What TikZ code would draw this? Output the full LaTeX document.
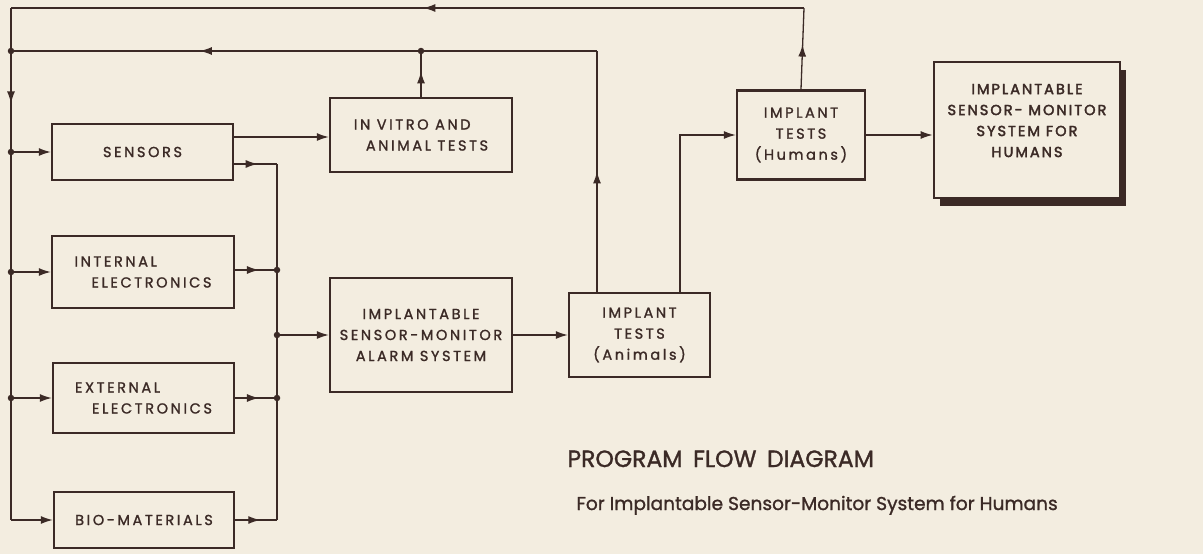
\documentclass[tikz,border=0pt]{standalone}
\usepackage{fontspec}
\setmainfont{Poppins}[FakeBold=1.2]
\newfontfamily\boxfont{Poppins}[LetterSpace=18,FakeBold=1.4]
\newfontfamily\boxbold{Poppins}[LetterSpace=14,FakeBold=2.6]
\usetikzlibrary{arrows.meta,decorations.markings,shadows}

\definecolor{ink}{HTML}{3B2A26}
\definecolor{paper}{HTML}{F3EDE0}

\tikzset{
  block/.style={draw=ink, line width=2.4pt, text=ink, align=center, inner sep=0pt,
    font=\boxfont\fontsize{14.5}{21}\selectfont},
  flow/.style={draw=ink, line width=1.3pt},
  jdot/.style={circle, fill=ink, inner sep=0pt, minimum size=6.5pt},
  midarrow/.style={postaction={decorate}, decoration={markings,
    mark=at position #1 with {\arrow{Latex[length=12pt,width=8pt]}}}},
  midarrow/.default=0.5,
}

\begin{document}
\begin{tikzpicture}[x=1pt, y=-1pt, >={Latex[length=12pt,width=8pt]}]
  % background and page size
  \fill[paper] (0,0) rectangle (1203,554);

  % 1. input blocks (left column)
  \node[block, minimum width=181pt, minimum height=56pt] (sens) at (142.5,152) {SENSORS};
  \node[block, minimum width=182pt, minimum height=72pt, align=left] (intel) at (143,272) {INTERNAL\\\hspace*{17pt}ELECTRONICS};
  \node[block, minimum width=181pt, minimum height=70pt, align=left] (extel) at (143.5,398) {EXTERNAL\\\hspace*{17pt}ELECTRONICS};
  \node[block, minimum width=180pt, minimum height=56pt] (bio) at (144,520) {BIO-MATERIALS};

  % 2. test and system blocks
  \node[block, minimum width=182pt, minimum height=74pt, align=left] (vitro) at (421,135) {IN VITRO AND\\\hspace*{12pt}ANIMAL TESTS};
  \node[block, minimum width=182pt, minimum height=114pt] (alarm) at (421,335) {IMPLANTABLE\\SENSOR-MONITOR\\ALARM SYSTEM};
  \node[block, minimum width=141pt, minimum height=84pt] (animals) at (639.5,335) {IMPLANT\\TESTS\\(Animals)};
  \node[block, minimum width=128pt, minimum height=89pt] (humans) at (801,135) {IMPLANT\\TESTS\\(Humans)};
  \node[block, line width=2.8pt, minimum width=186pt, minimum height=136pt,
    drop shadow={shadow xshift=6pt, shadow yshift=-8pt, opacity=1, fill=ink},
    fill=paper, font=\boxbold\fontsize{14.5}{21}\selectfont] (final) at (1027,130)
    {IMPLANTABLE\\SENSOR- MONITOR\\SYSTEM FOR\\HUMANS\\[-2pt]};

  % 3. junction points
  \coordinate (tr) at (804,8);
  \coordinate (tl) at (11,8);
  \coordinate (bl) at (11,520);
  \coordinate (ar) at (597,51);
  \coordinate (hx) at (680,135);
  \node[jdot] (j1) at (11,51) {};
  \node[jdot] (j2) at (11,152) {};
  \node[jdot] (j3) at (11,272) {};
  \node[jdot] (j4) at (11,398) {};
  \node[jdot] (jv) at (421,51) {};
  \coordinate (bs) at (277,164);
  \coordinate (bb) at (277,520);
  \node[jdot] (b2) at (277,270) {};
  \node[jdot] (b3) at (277,335) {};
  \node[jdot] (b4) at (277,398) {};

  % 4. feedback loops
  \draw[flow, midarrow=0.55] (humans.north) -- (tr);
  \draw[flow, midarrow=0.48] (tr) -- (tl);
  \draw[flow] (tl) -- (j1);
  \draw[flow, midarrow=0.52] (j1) -- (j2);
  \draw[flow] (j2) -- (j3) -- (j4) -- (bl);
  \draw[flow, midarrow=0.5] (animals.north -| ar) -- (ar);
  \draw[flow] (ar) -- (jv);
  \draw[flow, midarrow=0.54] (jv) -- (j1);
  \draw[flow, midarrow=0.6] (vitro.north) -- (jv);

  % 5. inputs into the blocks
  \draw[flow, ->] (j2) -- (sens.west);
  \draw[flow, ->] (j3) -- (intel.west);
  \draw[flow, ->] (j4) -- (extel.west);
  \draw[flow, ->] (bl) -- (bio.west);

  % 6. outputs to the bus
  \draw[flow, ->] ([yshift=15pt]sens.east) -- ([yshift=15pt]sens.east -| vitro.west);
  \draw[flow, midarrow=0.55] ([yshift=-12pt]sens.east) -- (bs);
  \draw[flow] (bs) -- (bb);
  \draw[flow, midarrow=0.62] ([yshift=2pt]intel.east) -- (b2);
  \draw[flow, midarrow=0.62] (extel.east) -- (b4);
  \draw[flow, midarrow=0.6] (bio.east) -- (bb);
  \draw[flow, ->] (b3) -- (alarm.west);

  % 7. main chain
  \draw[flow, ->] (alarm) -- (animals);
  \draw[flow, ->] (animals.north -| hx) -- (hx) -- (humans.west);
  \draw[flow, ->] (humans.east) -- (humans.east -| final.west);

  % 8. caption
  \node[anchor=base west, text=ink, font=\fontsize{23.5}{28}\selectfont] (title) at (564,467) {PROGRAM\hspace{0.45em}FLOW\hspace{0.45em}DIAGRAM};
  \node[anchor=base west, text=ink, font=\fontsize{18.6}{22}\selectfont] (subtitle) at (573,510) {For Implantable Sensor-Monitor System for Humans};
\end{tikzpicture}
\end{document}
